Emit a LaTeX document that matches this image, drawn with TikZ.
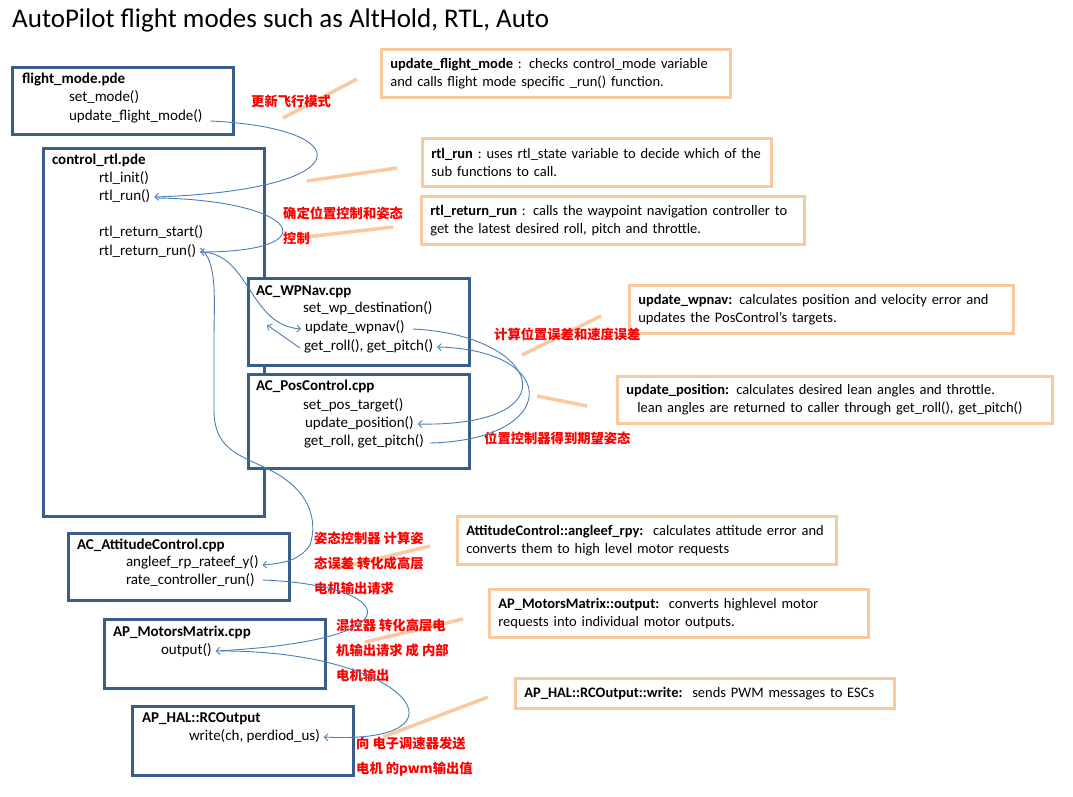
\documentclass[tikz,border=0pt]{standalone}
\usepackage{fontspec}
\setmainfont{Carlito}
\newfontfamily\cjk{Noto Sans CJK SC}
\definecolor{boxblue}{HTML}{385D8A}
\definecolor{peach}{HTML}{F9C9A0}
\definecolor{callblue}{HTML}{4A7EBB}
\definecolor{notered}{HTML}{FF0000}
\usetikzlibrary{arrows.meta}

\tikzset{
  srcbox/.style={draw=boxblue,fill=white,line width=2.6pt,anchor=north west,inner sep=0pt},
  fname/.style={anchor=west,inner sep=0pt,outer xsep=4pt,xshift=-4pt,text height=10pt,text depth=4pt,
    font=\fontsize{15}{18}\selectfont},
  fhead/.style={fname,font=\bfseries\fontsize{15}{18}\selectfont},
  note/.style={draw=peach,line width=2.6pt,anchor=north west,align=left,inner xsep=9pt,inner ysep=0pt,
    minimum height=48pt,font=\fontsize{14.5}{18}\selectfont},
  cnlabel/.style={anchor=west,inner sep=0pt,align=left,text=notered,
    font=\cjk\bfseries\fontsize{13.3}{25}\selectfont},
  leader/.style={peach,line width=3.5pt},
  call/.style={callblue,line width=0.9pt,-{Straight Barb[length=3.5pt,width=7pt]}},
}

\begin{document}
\begin{tikzpicture}[x=1pt,y=-1pt]
  \fill[white] (0,0) rectangle (1073,796);
  \useasboundingbox (0,0) rectangle (1073,796);
  % title
  \node[anchor=base west,inner sep=0pt,font=\fontsize{27}{32}\selectfont] (title) at (12,27)
    {AutoPilot flight modes such as AltHold, RTL, Auto};

  % flight_mode.pde
  \node[srcbox,minimum width=221pt,minimum height=67pt] (fmbox) at (11,66) {};
  \node[fhead] (fmfile) at (22,80) {flight\_mode.pde};
  \node[fname] (fmset) at (69,98) {set\_mode()};
  \node[fname] (fmupd) at (69,117) {update\_flight\_mode()};
  % control_rtl.pde
  \node[srcbox,minimum width=221pt,minimum height=368pt] (rtlbox) at (42,147) {};
  \node[fhead] (rtlfile) at (52,161) {control\_rtl.pde};
  \node[fname] (rtlinit) at (99,179) {rtl\_init()};
  \node[fname] (rtlrun) at (99,197) {rtl\_run()};
  \node[fname] (rtlstart) at (99,233) {rtl\_return\_start()};
  \node[fname] (rtlret) at (99,252) {rtl\_return\_run()};
  % AC_WPNav.cpp
  \node[srcbox,minimum width=221pt,minimum height=87pt] (wpbox) at (247,277) {};
  \node[fhead] (wpfile) at (256,292) {AC\_WPNav.cpp};
  \node[fname] (wpdest) at (303,309) {set\_wp\_destination()};
  \node[fname] (wpupd) at (305,328) {update\_wpnav()};
  \node[fname] (wproll) at (304,347) {get\_roll(), get\_pitch()};
  % AC_PosControl.cpp
  \node[srcbox,minimum width=221pt,minimum height=94pt] (posbox) at (247,373) {};
  \node[fhead] (posfile) at (256,387) {AC\_PosControl.cpp};
  \node[fname] (postarget) at (303,406) {set\_pos\_target()};
  \node[fname] (posupd) at (305,424) {update\_position()};
  \node[fname] (posroll) at (304,442) {get\_roll, get\_pitch()};
  % AC_AttitudeControl.cpp
  \node[srcbox,minimum width=221pt,minimum height=67pt] (attbox) at (67,532) {};
  \node[fhead] (attfile) at (77,546) {AC\_AttitudeControl.cpp};
  \node[fname] (attang) at (126,563) {angleef\_rp\_rateef\_y()};
  \node[fname] (attrate) at (126,581) {rate\_controller\_run()};
  % AP_MotorsMatrix.cpp
  \node[srcbox,minimum width=221pt,minimum height=69pt] (motbox) at (103,618) {};
  \node[fhead] (motfile) at (113,633) {AP\_MotorsMatrix.cpp};
  \node[fname] (motout) at (161,651) {output()};
  % AP_HAL::RCOutput
  \node[srcbox,minimum width=221pt,minimum height=69pt] (halbox) at (131,705) {};
  \node[fhead] (halfile) at (142,719) {AP\_HAL::RCOutput};
  \node[fname] (halwrite) at (189,737) {write(ch, perdiod\_us)};

  % notes
  \node[note,text width=331pt] (nfm) at (380,48)
    {\textbf{update\_flight\_mode} : checks control\_mode variable\\and calls flight mode specific \_run() function.};
  \node[note,text width=331pt] (nrtl) at (421,137)
    {\mbox{\textbf{rtl\_run} :\ uses rtl\_state variable to decide which of the}\\sub functions to call.};
  \node[note,text width=365pt] (nret) at (420,195)
    {\mbox{\textbf{rtl\_return\_run} : calls the waypoint navigation controller to}\\get the latest desired roll, pitch and throttle.};
  \node[note,text width=366pt] (nwp) at (628,284)
    {\mbox{\textbf{update\_wpnav:} calculates position and velocity error and}\\updates the PosControl's targets.};
  \node[note,text width=417pt,minimum height=47pt] (npos) at (616,375)
    {\textbf{update\_position:} calculates desired lean angles and throttle.\\\hspace*{11pt}\mbox{lean angles are returned to caller through get\_roll(), get\_pitch()}};
  \node[note,text width=361pt] (natt) at (456,515)
    {\mbox{\textbf{AttitudeControl::angleef\_rpy:}\ \ calculates attitude error and}\\converts them to high level motor requests};
  \node[note,text width=361pt] (nmot) at (488,588)
    {\textbf{AP\_MotorsMatrix::output:}\ \ converts highlevel motor\\requests into individual motor outputs.};
  \node[note,text width=361pt,minimum height=30pt] (nhal) at (514,677)
    {\mbox{\textbf{AP\_HAL::RCOutput::write:}\ \ sends PWM messages to ESCs}};

  % leader strokes
  \draw[leader] (283,118) -- (357,79);
  \draw[leader] (307,181) -- (397,168);
  \draw[leader] (305,237) -- (393,227);
  \draw[leader] (522,355) -- (601,316);
  \draw[leader] (537,396) -- (587,406);
  \draw[leader] (335,569) -- (430,546);
  \draw[leader] (365,642) -- (463,619);
  \draw[leader] (383,737) -- (488,697);

  % red notes
  \node[cnlabel] (cnmode) at (251,101) {更新飞行模式};
  \node[cnlabel] (cnrtl) at (283,225.5) {确定位置控制和姿态\\控制};
  \node[cnlabel] (cnwp) at (494,334) {计算位置误差和速度误差};
  \node[cnlabel] (cnpos) at (484,438) {位置控制器得到期望姿态};
  \node[cnlabel] (cnatt) at (314,563) {姿态控制器 计算姿\\态误差 转化成高层\\电机输出请求};
  \node[cnlabel] (cnmix) at (336,650) {混控器 转化高层电\\机输出请求 成 内部\\电机输出};
  \node[cnlabel] (cnesc) at (356,756.5) {向 电子调速器发送\\电机 的pwm输出值};

  % calls
  \coordinate (wpback) at (267,325);
  \draw[call] ([shift={(4,4)}]fmupd.east) .. controls (360,128) and (362,190) .. (rtlrun.east);
  \draw[call] ([shift={(2,1)}]rtlrun.east) .. controls (300,200) and (330,252) .. (rtlret.east);
  \draw[call] (rtlret.east) .. controls (250,252) and (248,325) .. ([yshift=-1pt]wpupd.west);
  \draw[call] ([yshift=-1pt]wproll.west) -- (wpback);
  \draw[call] ([yshift=4pt]rtlret.east) .. controls (218,262) and (214,300) .. (214,340)
    -- (214,410) .. controls (214,450) and (240,455) .. (270,470)
    .. controls (310,490) and (318,520) .. (310,545)
    .. controls (300,560) and (285,563) .. ([yshift=-2pt]attang.east);
  \draw[call] ([shift={(4,1)}]wpupd.east) .. controls (540,335) and (575,427) .. (posupd.east);
  \draw[call] ([shift={(2,1)}]posroll.east) .. controls (560,440) and (562,350) .. (wproll.east);
  \draw[call] ([shift={(4,-1)}]attrate.east) .. controls (395,585) and (425,640) .. (motout.east);
  \draw[call] ([xshift=4pt]motout.east) .. controls (410,650) and (478,745) .. (halwrite.east);
\end{tikzpicture}
\end{document}
